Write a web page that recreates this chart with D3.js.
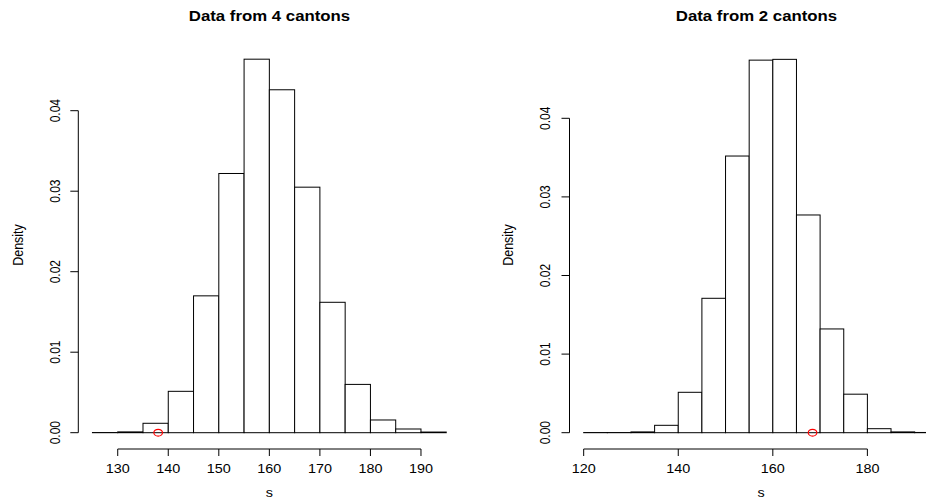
<!DOCTYPE html>
<html>
<head>
<meta charset="utf-8">
<script src="https://cdnjs.cloudflare.com/ajax/libs/d3/7.8.5/d3.min.js"></script>
<style>
html,body{margin:0;padding:0;background:#fff;}
svg{display:block;}
text{font-family:"Liberation Sans",Arial,Helvetica,sans-serif;fill:#000;}
</style>
</head>
<body>
<svg id="chart" width="926" height="499"></svg>
<script>
// ---- data ----
const titles = ["Data from 4 cantons", "Data from 2 cantons"];
const breaksLeft = [125,130,135,140,145,150,155,160,165,170,175,180,185,190,195];
const densLeft = [0.00002,0.0001,0.00117,0.00514,0.0170,0.0322,0.0464,0.0426,0.0305,0.0162,0.0060,0.00158,0.00046,0.00008];
const breaksRight = [120,125,130,135,140,145,150,155,160,165,170,175,180,185,190,195];
const densRight = [0.00002,0.00002,0.0001,0.00094,0.00514,0.0171,0.0352,0.0474,0.0475,0.0277,0.0132,0.0049,0.00051,0.0001,0.00003];
const xTicksLeft = [130,140,150,160,170,180,190];
const xTicksRight = [120,140,160,180];
const yTicks = [0.00,0.01,0.02,0.03,0.04];
const observedLeft = 138.0;
const observedRight = 168.4;
const xLabel = "s";
const yLabel = "Density";

const svg = d3.select("#chart");
const SX = 1.2; // horizontal stretch of text

const panels = [
  {title:titles[0], breaks:breaksLeft, dens:densLeft, xTicks:xTicksLeft, obs:observedLeft,
   xDom:[122.2,197.8], xRange:[78.3,460.4], yRange:[432.7,110.7],
   titleX:269.5, yLabX:22.5, tickLabX:60, axisLabY:496.5},
  {title:titles[1], breaks:breaksRight, dens:densRight, xTicks:xTicksRight, obs:observedRight,
   xDom:[117,198], xRange:[569.5,952.5], yRange:[432.7,118.3],
   titleX:756.5, yLabX:513, tickLabX:550, axisLabY:496.5}
];

panels.forEach(p => {
  const x = d3.scaleLinear().domain(p.xDom).range(p.xRange);
  const y = d3.scaleLinear().domain([0,0.04]).range(p.yRange);
  const g = svg.append("g");

  const bins = p.dens.map((d,i)=>({x0:p.breaks[i], x1:p.breaks[i+1], d}));
  g.selectAll("rect.bar").data(bins).enter().append("rect")
    .attr("class","bar")
    .attr("x", b=>x(b.x0))
    .attr("width", b=>x(b.x1)-x(b.x0))
    .attr("y", b=>y(b.d))
    .attr("height", b=>y(0)-y(b.d))
    .attr("fill","#fff").attr("stroke","#000").attr("stroke-width",1);

  // x axis
  const axY = 449;
  const xa = g.append("g");
  xa.append("line").attr("x1",x(d3.min(p.xTicks))).attr("x2",x(d3.max(p.xTicks)))
    .attr("y1",axY).attr("y2",axY).attr("stroke","#000");
  p.xTicks.forEach(t=>{
    xa.append("line").attr("x1",x(t)).attr("x2",x(t)).attr("y1",axY).attr("y2",axY+7).attr("stroke","#000");
    xa.append("text").attr("transform",`translate(${x(t)},473) scale(${SX},1)`)
      .attr("text-anchor","middle").attr("font-size",12).text(t);
  });

  // y axis
  const axX = p.xRange[0];
  const ya = g.append("g");
  ya.append("line").attr("x1",axX).attr("x2",axX).attr("y1",y(0)).attr("y2",y(0.04)).attr("stroke","#000");
  yTicks.forEach(t=>{
    ya.append("line").attr("x1",axX-8).attr("x2",axX).attr("y1",y(t)).attr("y2",y(t)).attr("stroke","#000");
    ya.append("text").attr("transform",`translate(${p.tickLabX},${y(t)}) scale(${SX},1) rotate(-90)`)
      .attr("text-anchor","middle").attr("font-size",12).text(t.toFixed(2));
  });

  // labels
  g.append("text").attr("transform",`translate(${p.titleX},21) scale(${SX},1)`)
    .attr("text-anchor","middle").attr("font-size",14).attr("font-weight","bold").text(p.title);
  g.append("text").attr("transform",`translate(${(p.xRange[0]+p.xRange[1])/2 - 0},${p.axisLabY}) scale(${SX},1)`)
    .attr("text-anchor","middle").attr("font-size",12).text(xLabel);
  g.append("text").attr("transform",`translate(${p.yLabX},245) scale(${SX},1) rotate(-90)`)
    .attr("text-anchor","middle").attr("font-size",12.5).text(yLabel);

  // observed value
  g.append("ellipse").attr("cx",x(p.obs)).attr("cy",y(0)).attr("rx",4.3).attr("ry",3.4)
    .attr("fill","none").attr("stroke","#ff0000").attr("stroke-width",1.2);
});
</script>
</body>
</html>
